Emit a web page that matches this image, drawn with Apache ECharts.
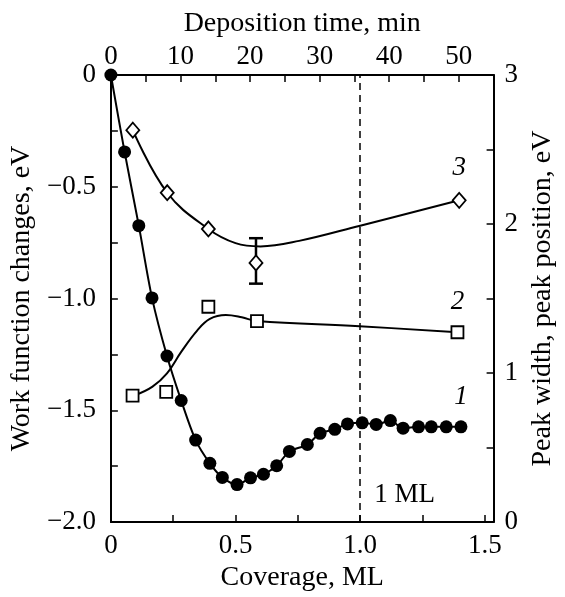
<!DOCTYPE html>
<html>
<head>
<meta charset="utf-8">
<script src="https://cdn.jsdelivr.net/npm/echarts@6/dist/echarts.min.js"></script>
<style>
html,body{margin:0;padding:0;background:#fff;}
#chart{width:565px;height:597px;}
</style>
</head>
<body>
<div id="chart"></div>
<script>
// ---- data ----
// Curve 1: work function change (eV) vs coverage (ML), left axis
var cov1 = [0, 0.055, 0.112, 0.165, 0.225, 0.282, 0.34, 0.397, 0.447, 0.506, 0.56, 0.612, 0.665, 0.716, 0.788, 0.839, 0.898, 0.949, 1.008, 1.064, 1.121, 1.172, 1.234, 1.285, 1.345, 1.404];
var wf1  = [0, -0.344, -0.674, -0.997, -1.257, -1.456, -1.633, -1.737, -1.80, -1.832, -1.802, -1.786, -1.748, -1.684, -1.653, -1.603, -1.585, -1.561, -1.556, -1.563, -1.546, -1.58, -1.574, -1.574, -1.574, -1.574];
// Curve 2: peak width (eV), right axis - measured points
var cov2 = [0.087, 0.222, 0.391, 0.586, 1.39];
var val2 = [0.848, 0.874, 1.445, 1.349, 1.274];
// Curve 2: drawn fit line
var cov2Fit = [0.095, 0.167, 0.225, 0.282, 0.346, 0.397, 0.461, 0.525, 0.586, 0.997, 1.39];
var val2Fit = [0.85, 0.909, 0.998, 1.142, 1.285, 1.363, 1.389, 1.374, 1.349, 1.314, 1.274];
// Curve 3: peak position (eV), right axis - measured points
var cov3 = [0.088, 0.226, 0.391, 0.582, 1.397];
var val3 = [2.63, 2.21, 1.967, 1.739, 2.159];
// Curve 3: drawn fit line
var cov3Fit = [0.088, 0.226, 0.391, 0.5, 0.6, 0.755, 1.0, 1.397];
var val3Fit = [2.63, 2.21, 1.967, 1.872, 1.85, 1.887, 1.989, 2.159];
// Error bar on curve 3
var errCov = [0.582];
var errLow = [1.60];
var errHigh = [1.905];
// Axes
var covRange = [0, 1.535];
var timeRange = [0, 55];
var wfRange = [-2, 0];
var peakRange = [0, 3];
var monolayer = 1.0;

function zip(a, b) { return a.map(function (v, i) { return [v, b[i]]; }); }

var FONT = 'Liberation Serif';
var FS = 27;
var NFS = 28;
var BLACK = '#000';

var chart = echarts.init(document.getElementById('chart'), null, {renderer: 'canvas'});

function merge(a, b) { for (var k in b) a[k] = b[k]; return a; }
function isMult(v, step) { var r = v / step; return Math.abs(r - Math.round(r)) < 1e-6; }

function axisCommon(extra, labelExtra) {
  var ax = {
    type: 'value',
    axisLine: {show: true, onZero: false, lineStyle: {color: BLACK, width: 2}},
    axisTick: {show: true, inside: true, length: 7, lineStyle: {color: BLACK, width: 1.5}},
    minorTick: {show: false},
    splitLine: {show: false},
    nameLocation: 'middle',
    nameTextStyle: {fontFamily: FONT, fontSize: NFS, color: BLACK},
    axisLabel: merge({fontFamily: FONT, fontSize: FS, color: BLACK, showMaxLabel: true}, labelExtra || {})
  };
  return merge(ax, extra);
}

var xBottom = axisCommon({
  position: 'bottom', min: covRange[0], max: covRange[1], interval: 0.25,
  name: 'Coverage, ML', nameGap: 37
}, {margin: 10, formatter: function (v) {
  if (!isMult(v, 0.5)) return '';
  return v === 0 ? '0' : v.toFixed(1);
}});

var xTop = axisCommon({
  position: 'top', min: timeRange[0], max: timeRange[1], interval: 5,
  name: 'Deposition time, min', nameGap: 37
}, {margin: 5, formatter: function (v) {
  return isMult(v, 10) ? String(v) : '';
}});

var yLeft = axisCommon({
  position: 'left', min: wfRange[0], max: wfRange[1], interval: 0.25,
  name: 'Work function changes, eV', nameGap: 66
}, {margin: 15, formatter: function (v) {
  if (!isMult(v, 0.5)) return '';
  return v === 0 ? '0' : v.toFixed(1).replace('-', '\u2212');
}});

var yRight = axisCommon({
  position: 'right', min: peakRange[0], max: peakRange[1], interval: 0.5,
  name: 'Peak width, peak position, eV', nameGap: 34, nameRotate: 90
}, {margin: 11, formatter: function (v) {
  return isMult(v, 1) ? String(v) : '';
}});

var labelStyle = {show: true, position: 'top', distance: 10, fontFamily: FONT, fontStyle: 'italic', fontSize: FS, color: BLACK, opacity: 1};

function lastLabel(data, text) {
  return data.map(function (d, i) {
    if (i === data.length - 1) {
      return {value: d, label: merge(merge({}, labelStyle), {formatter: text})};
    }
    return d;
  });
}

var option = {
  backgroundColor: '#fff',
  animation: false,
  grid: {left: 103, right: 60, top: 75, bottom: 70, containLabel: false},
  xAxis: [xBottom, xTop],
  yAxis: [yLeft, yRight],
  series: [
    {
      type: 'line', name: 'curve1', xAxisIndex: 0, yAxisIndex: 0,
      data: lastLabel(zip(cov1, wf1), '1'),
      smooth: 0.3, clip: false,
      symbol: 'circle', symbolSize: 13, showAllSymbol: true,
      itemStyle: {color: BLACK, opacity: 1},
      lineStyle: {color: BLACK, width: 2},
      z: 5,
      markLine: {
        silent: true, symbol: 'none',
        lineStyle: {color: BLACK, type: [7, 5], width: 1.5},
        label: {show: false},
        data: [{xAxis: monolayer}]
      },
      markPoint: {
        silent: true, symbol: 'circle', symbolSize: 0,
        label: {show: true, position: 'right', distance: 14, formatter: '1 ML', fontFamily: FONT, fontSize: FS, color: BLACK},
        data: [{coord: [monolayer, -1.88]}]
      }
    },
    {
      type: 'line', name: 'curve2fit', xAxisIndex: 0, yAxisIndex: 1,
      data: zip(cov2Fit, val2Fit), smooth: 0.4, symbol: 'none', clip: false,
      lineStyle: {color: BLACK, width: 2}, z: 3
    },
    {
      type: 'scatter', name: 'curve2', xAxisIndex: 0, yAxisIndex: 1,
      data: lastLabel(zip(cov2, val2), '2'),
      symbol: 'rect', symbolSize: 12, clip: false,
      itemStyle: {color: '#fff', borderColor: BLACK, borderWidth: 1.8, opacity: 1}, z: 6
    },
    {
      type: 'line', name: 'curve3fit', xAxisIndex: 0, yAxisIndex: 1,
      data: zip(cov3Fit, val3Fit), smooth: 0.4, symbol: 'none', clip: false,
      lineStyle: {color: BLACK, width: 2}, z: 3
    },
    {
      type: 'custom', name: 'err', xAxisIndex: 0, yAxisIndex: 1,
      data: errCov.map(function (c, i) { return [c, errLow[i], errHigh[i]]; }),
      renderItem: function (params, api) {
        var lo = api.coord([api.value(0), api.value(1)]);
        var hi = api.coord([api.value(0), api.value(2)]);
        var w = 7;
        var st = {stroke: BLACK, lineWidth: 2.5};
        return {type: 'group', children: [
          {type: 'line', shape: {x1: lo[0], y1: lo[1], x2: hi[0], y2: hi[1]}, style: st},
          {type: 'line', shape: {x1: lo[0] - w, y1: lo[1], x2: lo[0] + w, y2: lo[1]}, style: st},
          {type: 'line', shape: {x1: hi[0] - w, y1: hi[1], x2: hi[0] + w, y2: hi[1]}, style: st}
        ]};
      },
      z: 4
    },
    {
      type: 'scatter', name: 'curve3', xAxisIndex: 0, yAxisIndex: 1,
      data: lastLabel(zip(cov3, val3), '3'),
      symbol: 'diamond', symbolSize: [13, 15], clip: false,
      itemStyle: {color: '#fff', borderColor: BLACK, borderWidth: 1.8, opacity: 1}, z: 6
    }
  ]
};
chart.setOption(option);
</script>
</body>
</html>
